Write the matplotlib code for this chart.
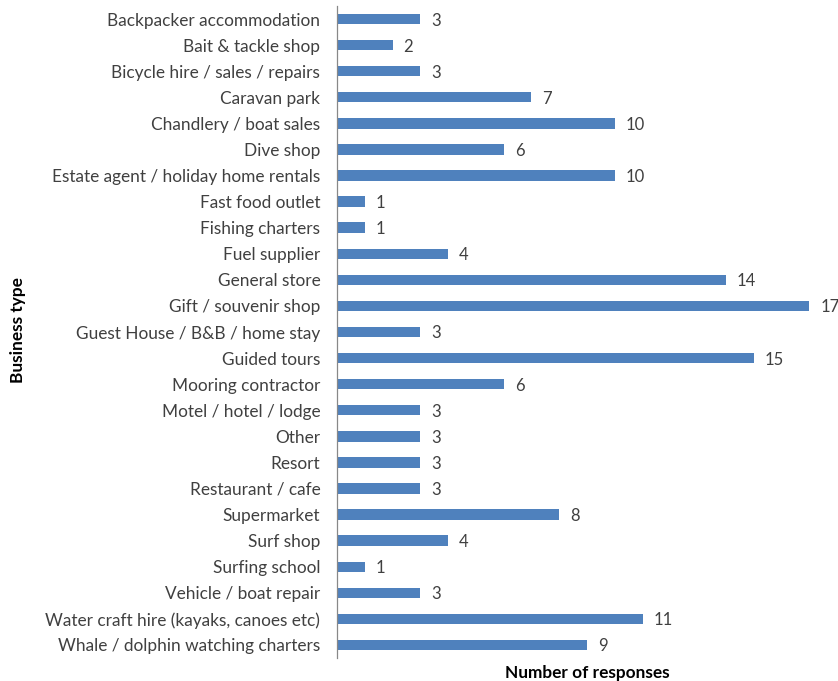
import matplotlib
matplotlib.use("Agg")
import matplotlib.pyplot as plt

categories = [
    "Backpacker accommodation",
    "Bait & tackle shop",
    "Bicycle hire / sales / repairs",
    "Caravan park",
    "Chandlery / boat sales",
    "Dive shop",
    "Estate agent / holiday home rentals",
    "Fast food outlet",
    "Fishing charters",
    "Fuel supplier",
    "General store",
    "Gift / souvenir shop",
    "Guest House / B&B / home stay",
    "Guided tours",
    "Mooring contractor",
    "Motel / hotel / lodge",
    "Other",
    "Resort",
    "Restaurant / cafe",
    "Supermarket",
    "Surf shop",
    "Surfing school",
    "Vehicle / boat repair",
    "Water craft hire (kayaks, canoes etc)",
    "Whale / dolphin watching charters",
]
values = [3, 2, 3, 7, 10, 6, 10, 1, 1, 4, 14, 17, 3, 15, 6, 3, 3, 3, 3, 8, 4, 1, 3, 11, 9]

plt.rcParams['font.family'] = ['Lato', 'DejaVu Sans']

fig = plt.figure(figsize=(8.38, 6.81), dpi=100)
ax = fig.add_axes([337/838, 1 - 658/681, 500/838, (658 - 6)/681])

y = list(range(len(categories)))
ax.barh(y, values, height=0.4, color="#4F81BD")
ax.set_ylim(len(categories) - 0.5, -0.5)
ax.set_xlim(0, 18)
ax.set_yticks(y)
ax.set_yticklabels(categories, fontsize=12.4, color="#404040")
ax.tick_params(axis='y', length=0, pad=12)
ax.set_xticks([])
for s in ["top", "right", "bottom"]:
    ax.spines[s].set_visible(False)
ax.spines["left"].set_color("#888888")
ax.spines["left"].set_linewidth(0.9)

for yi, v in zip(y, values):
    ax.text(v + 0.4, yi, str(v), va="center_baseline", ha="left", fontsize=12, color="#404040")

fig.text(587/838, 1 - 673/681, "Number of responses", ha="center", va="center",
         fontsize=12.4, fontweight="bold", color="#000000")
fig.text(18/838, 1 - 330/681, "Business type", ha="center", va="center",
         rotation=90, fontsize=12.4, fontweight="bold", color="#000000")

fig.savefig("out.png", dpi=100, facecolor="white")
